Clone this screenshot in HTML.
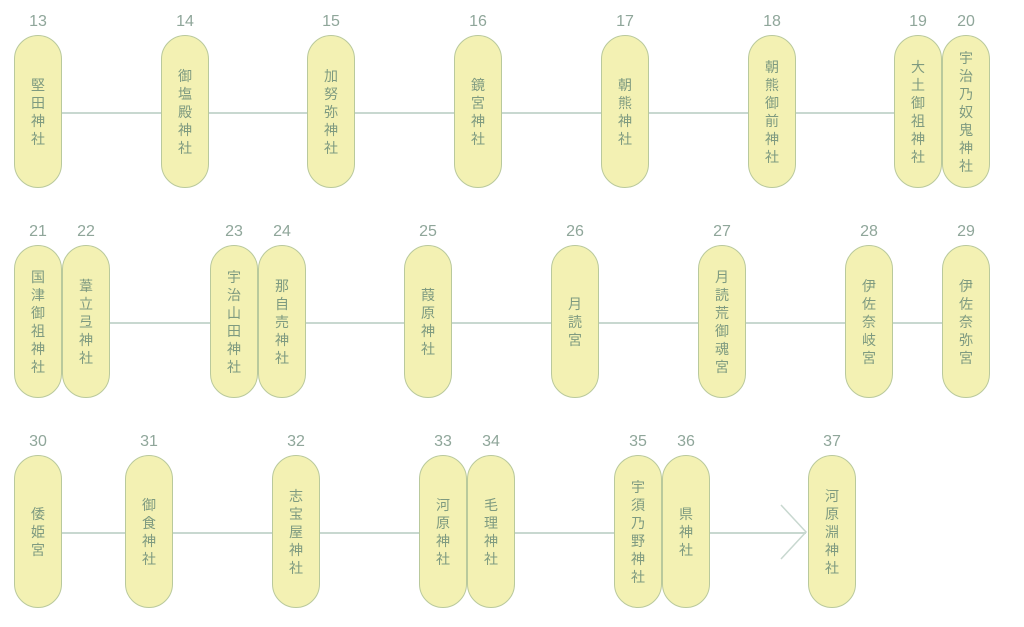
<!DOCTYPE html>
<html><head><meta charset="utf-8"><style>
body{margin:0;width:1024px;height:627px;background:#fff;position:relative;overflow:hidden;font-family:"Liberation Sans","Noto Sans CJK JP",sans-serif}
.p{position:absolute;width:46px;height:151px;border:1px solid #b9c99c;border-radius:24px;background:#f3f1b3;display:flex;flex-direction:column;align-items:center;justify-content:center;color:#7e9a80;font-size:14px;line-height:18px;box-sizing:content-box}
.n{position:absolute;width:48px;text-align:center;color:#8fa69a;font-size:16px;line-height:16px}
.l{position:absolute;height:1.5px;background:#c8d8d0}
</style></head><body>
<div class="l" style="left:38px;width:928px;top:112px"></div>
<div class="l" style="left:38px;width:928px;top:322px"></div>
<div class="l" style="left:38px;width:768px;top:532px"></div>
<svg style="position:absolute;left:0;top:0" width="1024" height="627"><polyline points="781,505 806,532 781,559" fill="none" stroke="#c8d8d0" stroke-width="1.5"/></svg>
<div id="c"></div>
<script>
const rows=[[35,[[14,13,"堅田神社"],[161,14,"御塩殿神社"],[307,15,"加努弥神社"],[454,16,"鏡宮神社"],[601,17,"朝熊神社"],[748,18,"朝熊御前神社"],[894,19,"大土御祖神社"],[942,20,"宇治乃奴鬼神社"]]],
[245,[[14,21,"国津御祖神社"],[62,22,"葦立弖神社"],[210,23,"宇治山田神社"],[258,24,"那自売神社"],[404,25,"葭原神社"],[551,26,"月読宮"],[698,27,"月読荒御魂宮"],[845,28,"伊佐奈岐宮"],[942,29,"伊佐奈弥宮"]]],
[455,[[14,30,"倭姫宮"],[125,31,"御食神社"],[272,32,"志宝屋神社"],[419,33,"河原神社"],[467,34,"毛理神社"],[614,35,"宇須乃野神社"],[662,36,"県神社"],[808,37,"河原淵神社"]]]];
let h="";
for(const [y,items] of rows)for(const [x,n,t] of items){
h+=`<div class="n" style="left:${x}px;top:${y-21}px">${n}</div><div class="p" style="left:${x}px;top:${y}px">${[...t].map(c=>"<span>"+c+"</span>").join("")}</div>`;}
document.getElementById("c").innerHTML=h;
</script>
</body></html>
